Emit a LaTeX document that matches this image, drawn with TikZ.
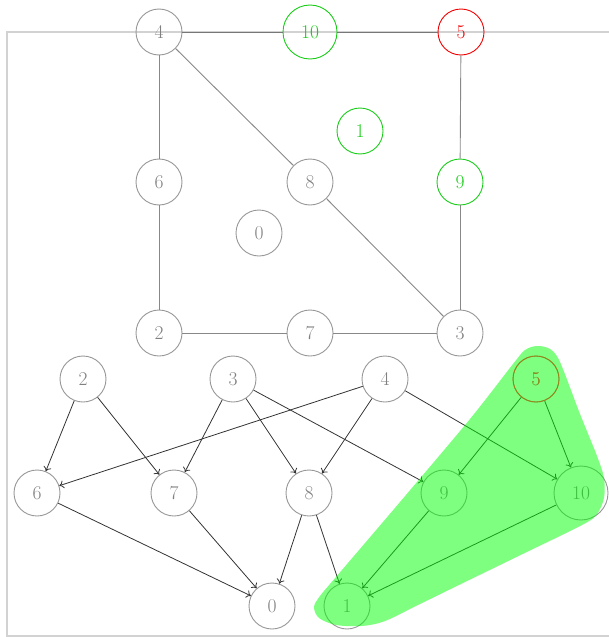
\documentclass[tikz,border=0pt]{standalone}
\usetikzlibrary{arrows.meta}
\definecolor{ringgray}{HTML}{979797}
\definecolor{labelgray}{HTML}{808080}
\definecolor{linkgray}{HTML}{888888}
\definecolor{linkdark}{HTML}{777777}
\definecolor{framegray}{HTML}{D2D2D2}
\definecolor{arcdark}{HTML}{333333}
\definecolor{hitgreen}{RGB}{25,205,25}
\definecolor{hitred}{RGB}{240,0,0}
\definecolor{hullgreen}{RGB}{0,255,0}
\definecolor{rootbrown}{RGB}{158,128,28}
\tikzset{
  vtx/.style={circle, draw=ringgray, text=labelgray, line width=0.9pt,
    minimum size=46pt, inner sep=0pt, font=\fontsize{19.5}{19.5}\selectfont},
  widevtx/.style={minimum size=54pt},
  greenvtx/.style={draw=hitgreen, text=hitgreen},
  redvtx/.style={draw=hitred, text=hitred},
  brownvtx/.style={draw=rootbrown, text=rootbrown},
  link/.style={draw=linkgray, line width=0.9pt},
  boldlink/.style={draw=linkdark, line width=0.9pt},
  dirlink/.style={draw=arcdark, line width=0.8pt, -{To[length=4.5pt,width=8pt]}},
  hull/.style={fill=hullgreen, opacity=0.5},
}
\begin{document}
\begin{tikzpicture}[x=1pt,y=-1pt]
\useasboundingbox (0,0) rectangle (609,637);
% frame around the upper graph
\draw[framegray, line width=1.1pt] (7,32) rectangle (616,636);

% ---- upper graph (undirected) ----
\node[vtx] (t4) at (159,32) {4};
\node[vtx, widevtx, greenvtx] (t10) at (310,32) {10};
\node[vtx, redvtx] (t5) at (461,32) {5};
\node[vtx] (t6) at (159,182) {6};
\node[vtx] (t8) at (310,182) {8};
\node[vtx, greenvtx] (t9) at (460,182) {9};
\node[vtx, greenvtx] (t1) at (360,131) {1};
\node[vtx] (t0) at (259,233) {0};
\node[vtx] (t2) at (159,333) {2};
\node[vtx] (t7) at (310,333) {7};
\node[vtx] (t3) at (460,333) {3};

\draw[boldlink] (t4) -- (t10);
\draw[boldlink] (t10) -- (t5);
\draw[link] (t4) -- (t6);
\draw[link] (t6) -- (t2);
\draw[link] (t2) -- (t7);
\draw[link] (t7) -- (t3);
\draw[link] (t3) -- (t9);
\draw[link] (t9) -- (t5);
\draw[link] (t4) -- (t8);
\draw[link] (t8) -- (t3);

% ---- lower graph (directed) ----
\node[vtx] (b2) at (83,379) {2};
\node[vtx] (b3) at (233,379) {3};
\node[vtx] (b4) at (385,379) {4};
\node[vtx] (b5) at (536,379) {5};
\node[vtx] (b6) at (37,493) {6};
\node[vtx] (b7) at (174,493) {7};
\node[vtx] (b8) at (309,493) {8};
\node[vtx] (b9) at (444,493) {9};
\node[vtx, widevtx] (b10) at (581,493) {10};
\node[vtx] (b0) at (272,606) {0};
\node[vtx] (b1) at (347,606) {1};

\draw[dirlink] (b2) -- (b6);
\draw[dirlink] (b2) -- (b7);
\draw[dirlink] (b3) -- (b7);
\draw[dirlink] (b3) -- (b8);
\draw[dirlink] (b3) -- (b9);
\draw[dirlink] (b4) -- (b6);
\draw[dirlink] (b4) -- (b8);
\draw[dirlink] (b4) -- (b10);
\draw[dirlink] (b5) -- (b9);
\draw[dirlink] (b5) -- (b10);
\draw[dirlink] (b6) -- (b0);
\draw[dirlink] (b7) -- (b0);
\draw[dirlink] (b8) -- (b0);
\draw[dirlink] (b8) -- (b1);
\draw[dirlink] (b9) -- (b1);
\draw[dirlink] (b10) -- (b1);

% translucent region around 5, 10 and 1
\fill[hull] plot[smooth cycle, tension=0.5] coordinates {
  (537,346) (550,349) (560,362) (580,414) (597,456) (604,478)
  (604,498) (597,514) (582,525) (500,565) (420,604) (385,621)
  (362,626) (336,625) (319,618) (314,607) (320,596) (336,577)
  (400,502) (470,419) (513,364) (525,350)};

% source vertex drawn over the region
\node[vtx, brownvtx] (b5top) at (b5) {5};
\end{tikzpicture}
\end{document}
